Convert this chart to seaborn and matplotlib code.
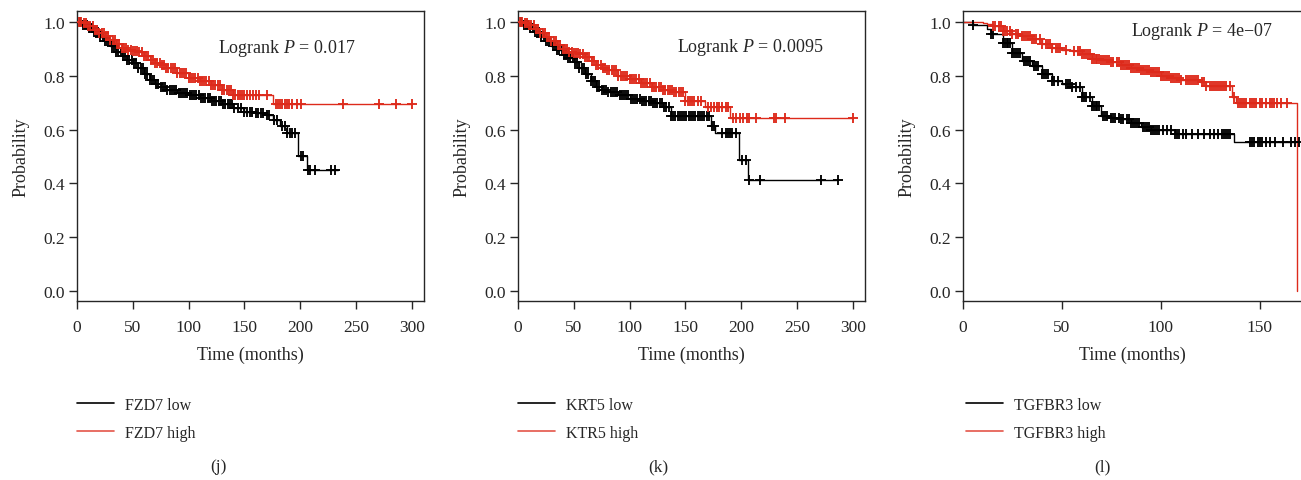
import matplotlib
matplotlib.use("Agg")
import matplotlib.pyplot as plt
import seaborn as sns
import numpy as np

# ---- data (Kaplan-Meier steps + censor times) ----
# (j) FZD7
fzd7_low_t = [0, 5, 10, 15, 20, 25, 30, 35, 40, 45, 50, 55, 60, 65, 70, 75, 80, 90, 100,
              110, 120, 130, 140, 150, 160, 170, 176, 182, 188, 198, 206]
fzd7_low_s = [1.0, 0.99, 0.978, 0.962, 0.945, 0.928, 0.91, 0.89, 0.873, 0.86, 0.846, 0.828,
              0.806, 0.785, 0.77, 0.758, 0.748, 0.738, 0.728, 0.716, 0.705, 0.695, 0.68,
              0.667, 0.662, 0.655, 0.636, 0.615, 0.586, 0.503, 0.451]
fzd7_low_end = 234
fzd7_low_cens = [3, 5, 7, 9, 11, 13, 15, 17, 19, 21, 23, 25, 27, 29, 31, 33, 35, 37, 39,
                 41, 43, 45, 47, 49, 51, 53, 55, 57, 59, 61, 63, 65, 67, 69, 71, 73, 75,
                 77, 79, 81, 83, 85, 87, 89, 91, 93, 95, 97, 99, 101, 103, 105, 107, 109,
                 111, 113, 115, 117, 119, 121, 123, 125, 127, 129, 131, 133, 135, 137, 139,
                 141, 144, 147, 150, 152, 155, 157, 160, 162, 165, 167, 170, 172, 177, 179,
                 184, 186, 188, 191, 193, 195, 201, 203, 207, 209, 213, 228, 231]
fzd7_high_t = [0, 5, 10, 15, 20, 25, 30, 35, 40, 45, 50, 55, 60, 65, 70, 75, 80, 90, 100,
               110, 120, 130, 140, 176]
fzd7_high_s = [1.0, 0.995, 0.985, 0.97, 0.958, 0.947, 0.934, 0.92, 0.905, 0.896, 0.891,
               0.887, 0.875, 0.86, 0.848, 0.84, 0.83, 0.81, 0.793, 0.78, 0.765, 0.748,
               0.729, 0.695]
fzd7_high_end = 300
fzd7_high_cens = [2, 4, 6, 8, 10, 12, 14, 16, 18, 20, 22, 24, 26, 28, 30, 32, 34, 36, 38,
                  40, 42, 44, 46, 48, 50, 52, 54, 56, 58, 60, 62, 64, 66, 68, 70, 72, 74,
                  76, 78, 80, 82, 84, 86, 88, 90, 92, 94, 96, 98, 100, 102, 104, 106, 108,
                  110, 112, 114, 116, 118, 120, 122, 124, 126, 128, 130, 132, 134, 136, 138,
                  140, 142, 144, 146, 148, 150, 152, 155, 158, 160, 163, 170, 178, 180, 182,
                  184, 186, 188, 190, 193, 197, 201, 238, 271, 286, 300]

# (k) KRT5
krt5_low_t = [0, 5, 10, 15, 20, 25, 30, 35, 40, 45, 50, 55, 60, 65, 70, 75, 80, 90, 100,
              110, 120, 130, 137, 173, 177, 198, 206]
krt5_low_s = [1.0, 0.99, 0.978, 0.962, 0.945, 0.928, 0.912, 0.895, 0.878, 0.865, 0.85,
              0.83, 0.805, 0.78, 0.76, 0.748, 0.74, 0.73, 0.715, 0.705, 0.7, 0.685, 0.652,
              0.612, 0.589, 0.488, 0.412]
krt5_low_end = 287
krt5_low_cens = [3, 5, 7, 9, 11, 13, 15, 17, 19, 21, 23, 25, 27, 29, 31, 33, 35, 37, 39,
                 41, 43, 45, 47, 49, 51, 53, 55, 57, 59, 61, 63, 65, 67, 69, 71, 73, 75,
                 77, 79, 81, 83, 85, 87, 89, 91, 93, 95, 97, 99, 101, 103, 105, 107, 109,
                 111, 113, 115, 117, 119, 121, 123, 125, 127, 129, 131, 133, 135, 137, 139,
                 141, 143, 145, 147, 149, 151, 153, 155, 157, 159, 161, 163, 165, 167, 169,
                 171, 174, 176, 183, 186, 188, 190, 192, 195, 201, 204, 207, 217, 272, 287]
krt5_high_t = [0, 5, 10, 15, 20, 25, 30, 35, 40, 45, 50, 55, 60, 65, 70, 75, 80, 90, 100,
               110, 120, 130, 140, 150, 168, 190]
krt5_high_s = [1.0, 0.997, 0.99, 0.975, 0.96, 0.945, 0.93, 0.915, 0.9, 0.89, 0.885, 0.882,
               0.87, 0.855, 0.84, 0.83, 0.82, 0.8, 0.787, 0.775, 0.76, 0.748, 0.74, 0.708,
               0.685, 0.644]
krt5_high_end = 300
krt5_high_cens = [2, 4, 6, 8, 10, 12, 14, 16, 18, 20, 22, 24, 26, 28, 30, 32, 34, 36, 38,
                  40, 42, 44, 46, 48, 50, 52, 54, 56, 58, 60, 62, 64, 66, 68, 70, 72, 74,
                  76, 78, 80, 82, 84, 86, 88, 90, 92, 94, 96, 98, 100, 102, 104, 106, 108,
                  110, 112, 114, 116, 118, 120, 122, 124, 126, 128, 130, 132, 134, 136, 138,
                  140, 142, 144, 146, 148, 150, 152, 154, 156, 158, 161, 164, 170, 173, 176,
                  178, 180, 183, 186, 188, 193, 195, 199, 202, 205, 207, 213, 229, 231, 239,
                  300]

# (l) TGFBR3
tgfbr3_low_t = [0, 5, 12, 14, 20, 25, 30, 35, 40, 45, 50, 55, 60, 65, 70, 75, 80, 85, 90,
                95, 107, 137]
tgfbr3_low_s = [1.0, 0.99, 0.973, 0.954, 0.923, 0.886, 0.855, 0.837, 0.806, 0.78, 0.769,
                0.757, 0.72, 0.688, 0.651, 0.645, 0.639, 0.626, 0.608, 0.6, 0.585, 0.553]
tgfbr3_low_end = 170
tgfbr3_low_cens = [5, 14, 15, 20, 21, 22, 23, 24, 25, 26, 27, 28, 29, 31, 32, 33, 34, 36,
                   37, 38, 40, 41, 42, 43, 45, 46, 48, 52, 53, 54, 55, 57, 59, 60, 61, 62,
                   64, 65, 66, 67, 68, 69, 71, 72, 73, 75, 76, 77, 79, 80, 81, 83, 84, 85,
                   86, 87, 88, 89, 91, 92, 93, 94, 95, 96, 97, 98, 99, 101, 103, 105, 107,
                   108, 109, 111, 113, 116, 119, 122, 125, 127, 129, 131, 132, 133, 134,
                   135, 145, 146, 147, 149, 150, 151, 153, 155, 158, 162, 166, 168, 170]
tgfbr3_high_t = [0, 10, 12, 15, 20, 25, 30, 35, 40, 45, 50, 55, 60, 65, 70, 75, 80, 85, 90,
                 95, 100, 105, 110, 120, 123, 136, 138, 169]
tgfbr3_high_s = [1.0, 0.997, 0.993, 0.985, 0.967, 0.957, 0.948, 0.936, 0.917, 0.905, 0.896,
                 0.892, 0.88, 0.864, 0.858, 0.853, 0.84, 0.83, 0.822, 0.814, 0.8, 0.793,
                 0.785, 0.777, 0.761, 0.72, 0.699, 0.0]
tgfbr3_high_end = 169
tgfbr3_high_cens = [15, 16, 18, 19, 20, 21, 22, 24, 25, 27, 28, 30, 31, 32, 33, 34, 35,
                    36, 37, 39, 40, 42, 43, 44, 45, 47, 48, 49, 52, 56, 58, 59, 60, 61, 62,
                    63, 64, 65, 66, 67, 68, 69, 70, 71, 72, 73, 74, 75, 76, 78, 79, 80, 81,
                    82, 83, 84, 85, 86, 87, 88, 89, 90, 91, 92, 93, 94, 95, 96, 97, 98, 99,
                    100, 101, 102, 103, 104, 105, 106, 107, 108, 109, 110, 113, 114, 115,
                    116, 117, 118, 119, 121, 122, 123, 125, 126, 127, 128, 129, 130, 131,
                    132, 133, 135, 137, 139, 140, 141, 142, 143, 145, 146, 147, 148, 150,
                    151, 153, 155, 156, 157, 159, 161, 164]

panels = [
    dict(low=(fzd7_low_t, fzd7_low_s, fzd7_low_end, fzd7_low_cens),
         high=(fzd7_high_t, fzd7_high_s, fzd7_high_end, fzd7_high_cens),
         labels=["FZD7 low", "FZD7 high"], p="0.017", tag="(j)",
         xticks=[0, 50, 100, 150, 200, 250, 300], xlim=(0, 311)),
    dict(low=(krt5_low_t, krt5_low_s, krt5_low_end, krt5_low_cens),
         high=(krt5_high_t, krt5_high_s, krt5_high_end, krt5_high_cens),
         labels=["KRT5 low", "KTR5 high"], p="0.0095", tag="(k)",
         xticks=[0, 50, 100, 150, 200, 250, 300], xlim=(0, 311)),
    dict(low=(tgfbr3_low_t, tgfbr3_low_s, tgfbr3_low_end, tgfbr3_low_cens),
         high=(tgfbr3_high_t, tgfbr3_high_s, tgfbr3_high_end, tgfbr3_high_cens),
         labels=["TGFBR3 low", "TGFBR3 high"], p="4e\u221207", tag="(l)",
         xticks=[0, 50, 100, 150], xlim=(0, 171.4)),
]

RED = "#dd2a1b"
BLACK = "#000000"

sns.set_style("ticks")
plt.rcParams["font.family"] = ["Liberation Serif", "DejaVu Serif"]
plt.rcParams["mathtext.fontset"] = "custom"
plt.rcParams["mathtext.it"] = "Liberation Serif:italic"
plt.rcParams["mathtext.rm"] = "Liberation Serif"

W, H = 1301, 481
fig = plt.figure(figsize=(W / 100, H / 100), dpi=100)

# axes boxes in pixels: left, top, right, bottom
boxes = [(77, 12, 424, 302), (518, 12, 865, 302), (963, 12, 1302, 302)]
ann_pos = [(218, 49), (677, 47), (1131, 32)]
leg_x = [77, 518, 966]
tag_x = [218, 658, 1102]


def km_xy(t, s, end):
    x = list(t) + [end]
    y = list(s) + [s[-1]]
    return x, y


def cens_y(t, s, c):
    idx = np.searchsorted(np.array(t), np.array(c), side="right") - 1
    return np.array(s)[idx]


for i, p in enumerate(panels):
    l, t, r, b = boxes[i]
    ax = fig.add_axes([l / W, 1 - b / H, (r - l) / W, (b - t) / H])
    handles = []
    for key, col in (("low", BLACK), ("high", RED)):
        tt, ss, end, cens = p[key]
        x, y = km_xy(tt, ss, end)
        sns.lineplot(x=x, y=y, ax=ax, color=col, lw=1.0, drawstyle="steps-post",
                     estimator=None, sort=False)
        sns.scatterplot(x=cens, y=cens_y(tt, ss, cens), ax=ax, marker="+", s=60,
                        color=col, linewidth=1.35, zorder=3)
        handles.append(plt.Line2D([], [], color=col, lw=1.2, alpha=1 if col == BLACK else 0.8))
    ax.set_xlim(*p["xlim"])
    ax.set_ylim(-0.037, 1.041)
    ax.set_xticks(p["xticks"])
    ax.set_yticks([0.0, 0.2, 0.4, 0.6, 0.8, 1.0])
    ax.set_yticklabels(["0.0", "0.2", "0.4", "0.6", "0.8", "1.0"])
    ax.tick_params(direction="out", length=6, width=1, labelsize=12.5)
    ax.tick_params(axis="x", pad=7)
    ax.tick_params(axis="y", pad=2.5)
    for sp in ax.spines.values():
        sp.set_visible(True)
        sp.set_linewidth(1)
    ax.set_xlabel("Time (months)", fontsize=13, labelpad=8)
    ax.set_ylabel("Probability", fontsize=13, labelpad=10)
    ax.grid(False)

    ax_, ay_ = ann_pos[i]
    fig.text(ax_ / W, 1 - ay_ / H, "Logrank $\\mathit{P}$ = " + p["p"], fontsize=13,
             ha="left", va="center")

    fig.legend(handles, p["labels"], loc="upper left",
               bbox_to_anchor=(leg_x[i] / W, 1 - 398 / H), frameon=False,
               fontsize=11.5, handlelength=2.3, handletextpad=0.7, labelspacing=0.75,
               borderpad=0, borderaxespad=0)
    fig.text(tag_x[i] / W, 1 - 467 / H, p["tag"], fontsize=12.5, ha="center", va="center")

fig.savefig("out.png", dpi=100)
